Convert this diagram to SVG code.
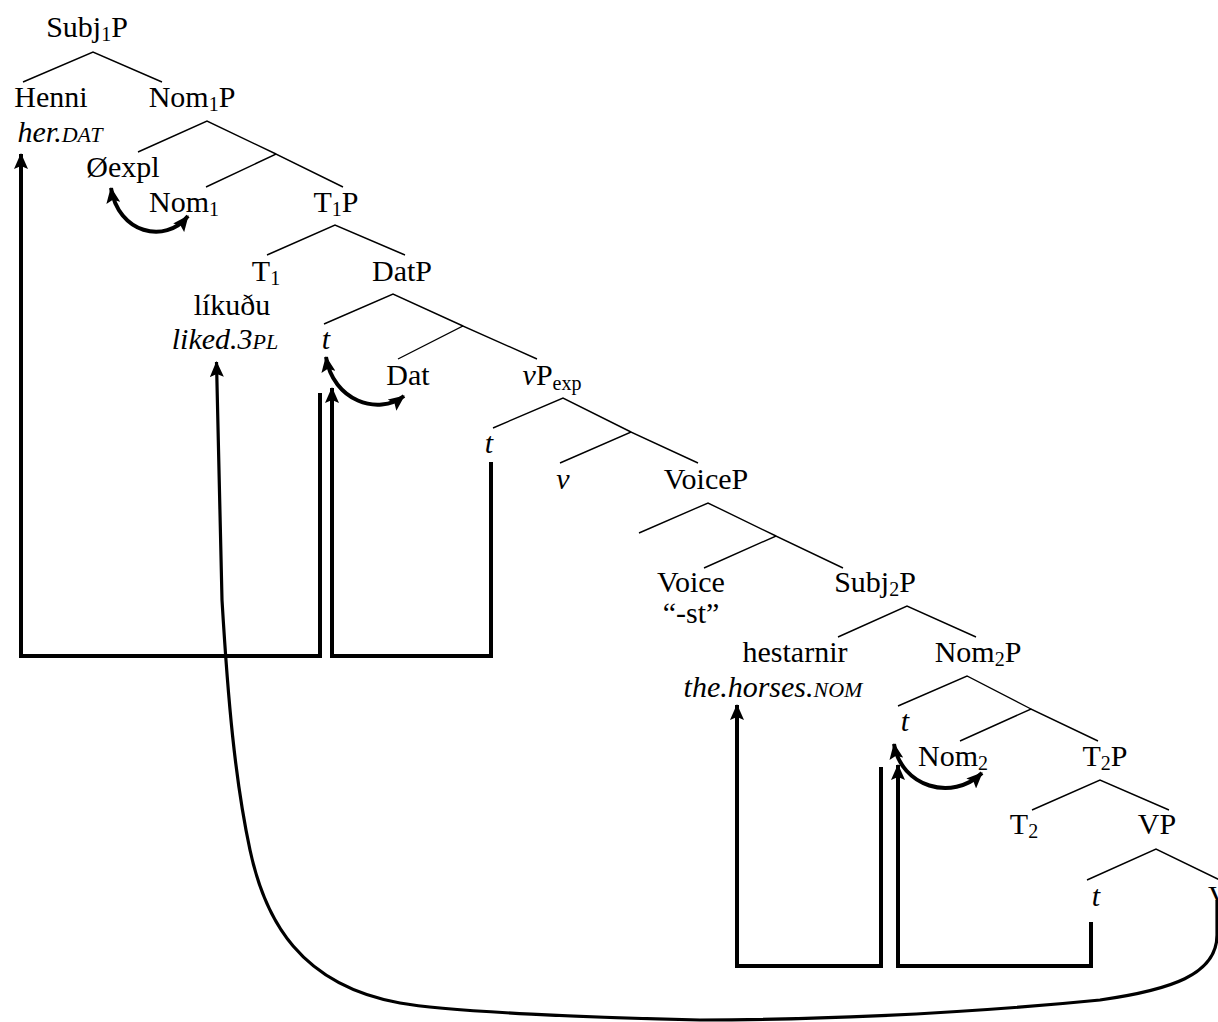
<svg xmlns="http://www.w3.org/2000/svg" width="1218" height="1022" viewBox="0 0 1218 1022">
<style>
text{font-family:"Liberation Serif","Times New Roman",serif;font-size:30px;fill:#000;text-anchor:middle}
.it{font-style:italic}
.sc{font-size:22px;font-style:italic}
.sub{font-size:20px}
.br{stroke:#000;stroke-width:1.4;fill:none}
.mv{stroke:#000;stroke-width:4;fill:none;stroke-linejoin:miter}
.arc{stroke:#000;stroke-width:4;fill:none}
.big{stroke:#000;stroke-width:3.2;fill:none}
</style>
<defs>
<marker id="ah" viewBox="0 0 16 14" refX="15" refY="7" markerWidth="16" markerHeight="14" markerUnits="userSpaceOnUse" orient="auto-start-reverse">
<path d="M0,0 L16,7 L0,14 L3,7 z" fill="#000"/>
</marker>
</defs>
<rect width="1218" height="1022" fill="#fff"/>
<g id="connectors">
<g id="branches">
<path class="br" d="M23,82 L93,52 L162,82"/>
<path class="br" d="M138,152 L207,121 L276,154"/>
<path class="br" d="M206,187 L276,154 L343,187"/>
<path class="br" d="M267,255 L335,225 L405,255"/>
<path class="br" d="M324,324 L393,294 L463,326"/>
<path class="br" d="M398,359 L463,326 L537,359"/>
<path class="br" d="M493,428 L563,398 L631,432"/>
<path class="br" d="M560,463 L631,432 L698,463"/>
<path class="br" d="M639,533 L708,503 L776,536"/>
<path class="br" d="M704,568 L776,536 L843,568"/>
<path class="br" d="M838,637 L907,606 L976,637"/>
<path class="br" d="M898,706 L967,676 L1031,709"/>
<path class="br" d="M960,741 L1031,709 L1098,741"/>
<path class="br" d="M1032,810 L1100,780 L1169,810"/>
<path class="br" d="M1087,880 L1156,849 L1226,883"/>
</g>
<g id="movements">
<path class="mv" d="M320,393 V656 H21 V154" marker-end="url(#ah)"/>
<path class="mv" d="M491,462 V656 H332 V388" marker-end="url(#ah)"/>
<path class="mv" d="M881,767 V966 H737 V705" marker-end="url(#ah)"/>
<path class="mv" d="M1091,922 V966 H898 V765" marker-end="url(#ah)"/>
<path class="arc" d="M111,188 C118,233 165,245 188,216" marker-start="url(#ah)" marker-end="url(#ah)"/>
<path class="arc" d="M326,357 C333,401 378,416 404,396" marker-start="url(#ah)" marker-end="url(#ah)"/>
<path class="arc" d="M894,744 C901,787 952,802 982,773" marker-start="url(#ah)" marker-end="url(#ah)"/>
<path class="big" d="M1217,900 L1217,935 C1217,975 1170,990 1100,1000 C950,1015 800,1020 700,1020 C600,1018 450,1012 400,1003 C300,985 265,920 250,850 C235,780 228,700 222,600 L216.5,362" marker-end="url(#ah)"/>
</g>
</g>
<g id="n-subj1p"><text x="87" y="37">Subj<tspan class="sub" dy="4">1</tspan><tspan dy="-4">P</tspan></text></g>
<g id="n-henni"><text x="51" y="107">Henni</text><text x="60" y="142"><tspan class="it">her.</tspan><tspan class="sc">DAT</tspan></text></g>
<g id="n-nom1p"><text x="192" y="107">Nom<tspan class="sub" dy="4">1</tspan><tspan dy="-4">P</tspan></text></g>
<g id="n-oexpl"><text x="123" y="177">Øexpl</text></g>
<g id="n-nom1"><text x="184" y="212">Nom<tspan class="sub" dy="4">1</tspan></text></g>
<g id="n-t1p"><text x="336" y="212">T<tspan class="sub" dy="4">1</tspan><tspan dy="-4">P</tspan></text></g>
<g id="n-t1"><text x="266" y="281">T<tspan class="sub" dy="4">1</tspan></text><text x="232" y="315">líkuðu</text><text x="225" y="349"><tspan class="it">liked.3</tspan><tspan class="sc">PL</tspan></text></g>
<g id="n-datp"><text x="402" y="281">DatP</text></g>
<g id="n-t-dat"><text class="it" x="326" y="349">t</text></g>
<g id="n-dat"><text x="408" y="385">Dat</text></g>
<g id="n-vpexp"><text x="552" y="385"><tspan class="it">v</tspan>P<tspan class="sub" dy="5">exp</tspan></text></g>
<g id="n-t-vp"><text class="it" x="489" y="453">t</text></g>
<g id="n-v"><text class="it" x="563" y="489">v</text></g>
<g id="n-voicep"><text x="706" y="489">VoiceP</text></g>
<g id="n-voice"><text x="691" y="592">Voice</text><text x="691" y="623">“-st”</text></g>
<g id="n-subj2p"><text x="875" y="592">Subj<tspan class="sub" dy="4">2</tspan><tspan dy="-4">P</tspan></text></g>
<g id="n-hestarnir"><text x="795" y="662">hestarnir</text><text x="773" y="697"><tspan class="it">the.horses.</tspan><tspan class="sc">NOM</tspan></text></g>
<g id="n-nom2p"><text x="978" y="662">Nom<tspan class="sub" dy="4">2</tspan><tspan dy="-4">P</tspan></text></g>
<g id="n-t-nom2"><text class="it" x="905" y="731">t</text></g>
<g id="n-nom2"><text x="953" y="766">Nom<tspan class="sub" dy="4">2</tspan></text></g>
<g id="n-t2p"><text x="1105" y="766">T<tspan class="sub" dy="4">2</tspan><tspan dy="-4">P</tspan></text></g>
<g id="n-t2"><text x="1024" y="834">T<tspan class="sub" dy="4">2</tspan></text></g>
<g id="n-vp"><text x="1157" y="834">VP</text></g>
<g id="n-t-v"><text class="it" x="1096" y="906">t</text></g>
<g id="n-verb"><text x="1208" y="906" style="text-anchor:start">V</text></g>
</svg>
